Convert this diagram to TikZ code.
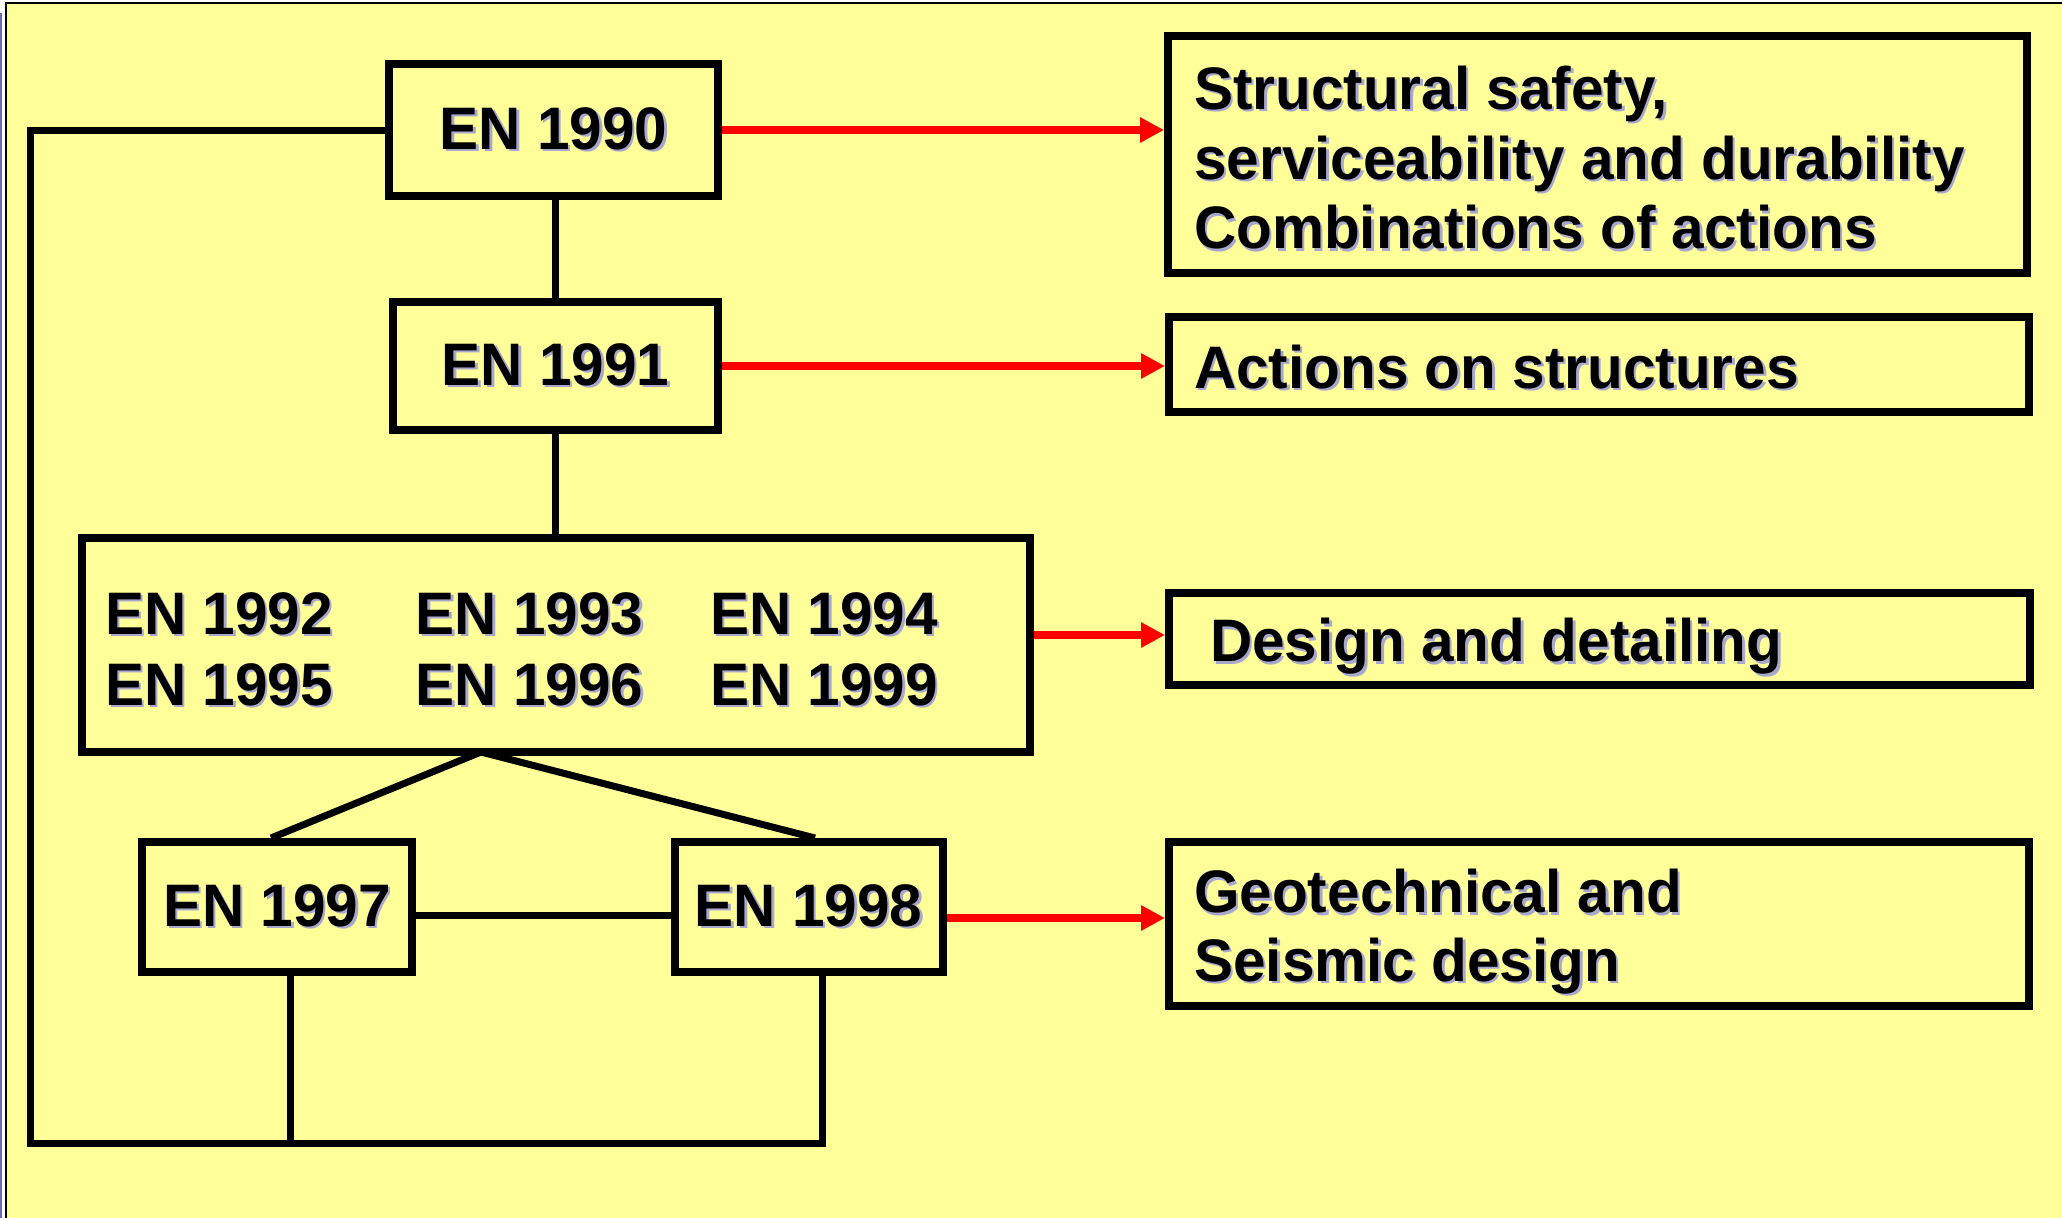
\documentclass[tikz,border=0pt]{standalone}
\usepackage{fontspec}
\setmainfont{Liberation Sans}[FakeStretch=0.975]
\usetikzlibrary{arrows.meta}
\definecolor{bgy}{HTML}{FFFF99}
\definecolor{shdc}{HTML}{A8A8CC}
\definecolor{edgeb}{HTML}{6A6AB8}
\newcommand\shtx[1]{\leavevmode\rlap{\kern2.5pt\raisebox{-2.5pt}{\color{shdc}#1}}#1}
\begin{document}
\begin{tikzpicture}[x=1pt,y=-1pt,
  box/.style={draw=black,line width=8pt,inner sep=0pt,
    font=\fontsize{60}{70}\selectfont\bfseries},
  lbl/.style={inner sep=0pt,font=\fontsize{60}{70}\selectfont\bfseries},
  conn/.style={draw=black,line width=7pt},
  redarr/.style={draw=red,line width=8pt,-{Triangle[length=24pt,width=24pt]}}]
\useasboundingbox (0,0) rectangle (2062,1218);
\fill[white] (0,0) rectangle (2062,1218);
\fill[bgy] (7,4) rectangle (2062,1218);
\fill[black] (5,2) rectangle (2062,4);
\fill[black] (5,2) rectangle (7,1218);
\fill[edgeb] (0,13) rectangle (1.5,1218);

% left column boxes
\node[box,minimum width=329pt,minimum height=132pt] (n1990) at (553.5,130) {\shtx{EN 1990}};
\node[box,minimum width=325pt,minimum height=128pt] (n1991) at (555.5,366) {\shtx{EN 1991}};
\node[box,minimum width=948pt,minimum height=214pt] (nbig) at (555.6,645) {};
\node[box,minimum width=270pt,minimum height=130pt] (n1997) at (277,907) {\shtx{EN 1997}};
\node[box,minimum width=268pt,minimum height=130pt] (n1998) at (808.7,907) {\shtx{EN 1998}};

% labels in the big box
\node[lbl,anchor=base west] (e1992) at (105,634) {\shtx{EN 1992}};
\node[lbl,anchor=base west] (e1993) at (415.5,634) {\shtx{EN 1993}};
\node[lbl,anchor=base west] (e1994) at (710,634) {\shtx{EN 1994}};
\node[lbl,anchor=base west] (e1995) at (105,705) {\shtx{EN 1995}};
\node[lbl,anchor=base west] (e1996) at (415.5,705) {\shtx{EN 1996}};
\node[lbl,anchor=base west] (e1999) at (710,705) {\shtx{EN 1999}};

% right column boxes
\node[box,minimum width=859pt,minimum height=237pt] (r1) at (1597.5,154.5) {};
\node[box,minimum width=860pt,minimum height=95pt] (r2) at (1599,364) {};
\node[box,minimum width=861pt,minimum height=92pt] (r3) at (1599.5,639) {};
\node[box,minimum width=860pt,minimum height=164pt] (r4) at (1599,924) {};

\node[lbl,anchor=base west] (t1a) at (1194,109) {\shtx{Structural safety,}};
\node[lbl,anchor=base west] (t1b) at (1194,179) {\shtx{serviceability and durability}};
\node[lbl,anchor=base west] (t1c) at (1194,248.5) {\shtx{Combinations of actions}};
\node[lbl,anchor=base west] (t2) at (1194,388) {\shtx{Actions on structures}};
\node[lbl,anchor=base west] (t3) at (1210,661.5) {\shtx{Design and detailing}};
\node[lbl,anchor=base west] (t4a) at (1194,912.6) {\shtx{Geotechnical and}};
\node[lbl,anchor=base west] (t4b) at (1194,981) {\shtx{Seismic design}};

% black connectors
\coordinate (v1) at (555,0);
\draw[conn] (v1 |- n1990.south) -- (v1 |- n1991.north);
\draw[conn] (n1991.south) -- (nbig.north -| n1991.south);
\coordinate (apex) at (481,752);
\coordinate (t97) at (271,0);
\coordinate (t98) at (815,0);
\draw[conn] (apex) -- (t97 |- n1997.north);
\draw[conn] (apex) -- (t98 |- n1998.north);
\draw[conn] (n1997.east |- 0,915) -- (n1998.west |- 0,915);
\coordinate (lc) at (30,1143);
\coordinate (rc) at (822,1143);
\coordinate (b97) at (290,1143);
\draw[conn] (n1990.west) -| (lc) -- (rc) -- (rc |- n1998.south);
\draw[conn] (b97) -- (b97 |- n1997.south);

% red arrows
\draw[redarr] (n1990.east) -- (n1990.east -| r1.west);
\draw[redarr] (n1991.east) -- (n1991.east -| r2.west);
\draw[redarr] (nbig.east |- 0,635) -- (r3.west |- 0,635);
\draw[redarr] (n1998.east |- 0,918) -- (r4.west |- 0,918);
\end{tikzpicture}
\end{document}
